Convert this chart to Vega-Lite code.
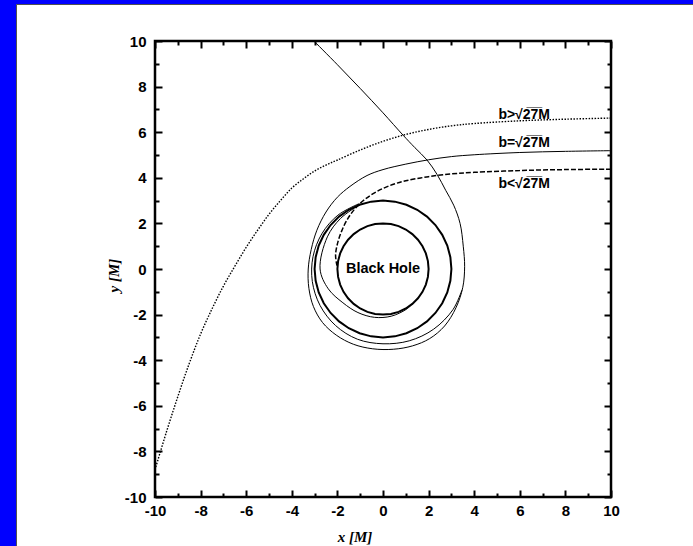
{
  "$schema": "https://vega.github.io/schema/vega-lite/v6.json",
  "autosize": {"type": "none"},
  "padding": {"left": 16, "top": 4, "right": 0, "bottom": 0},
  "width": 677,
  "height": 542,
  "background": "#0000ff",
  "view": {"fill": "white", "stroke": "#505050", "strokeWidth": 1},
  "datasets": {
    "above": [
      {"i": 0, "x": 10, "y": 6.62}, {"i": 1, "x": 8, "y": 6.57}, {"i": 2, "x": 6, "y": 6.5},
      {"i": 3, "x": 4, "y": 6.38}, {"i": 4, "x": 3, "y": 6.28}, {"i": 5, "x": 2, "y": 6.12},
      {"i": 6, "x": 1, "y": 5.9}, {"i": 7, "x": 0, "y": 5.6}, {"i": 8, "x": -1, "y": 5.22},
      {"i": 9, "x": -2, "y": 4.78}, {"i": 10, "x": -2.5, "y": 4.56}, {"i": 11, "x": -3, "y": 4.3},
      {"i": 12, "x": -3.5, "y": 3.95}, {"i": 13, "x": -4, "y": 3.55}, {"i": 14, "x": -4.5, "y": 3.0},
      {"i": 15, "x": -5, "y": 2.4}, {"i": 16, "x": -5.5, "y": 1.7}, {"i": 17, "x": -6, "y": 0.95},
      {"i": 18, "x": -6.5, "y": 0.12}, {"i": 19, "x": -7, "y": -0.75}, {"i": 20, "x": -7.5, "y": -1.75},
      {"i": 21, "x": -8, "y": -2.85}, {"i": 22, "x": -8.5, "y": -4.15}, {"i": 23, "x": -9, "y": -5.6},
      {"i": 24, "x": -9.5, "y": -7.15}, {"i": 25, "x": -10, "y": -8.8}
    ],
    "critical": [
      {"i": 0, "x": 10, "y": 5.19}, {"i": 1, "x": 8, "y": 5.16}, {"i": 2, "x": 6, "y": 5.11},
      {"i": 3, "x": 4, "y": 5.01}, {"i": 4, "x": 3, "y": 4.93}, {"i": 5, "x": 2, "y": 4.79},
      {"i": 6, "x": 1, "y": 4.6}, {"i": 7, "x": 0, "y": 4.36}, {"i": 8, "x": -0.7, "y": 4.1},
      {"i": 9, "x": -1.45, "y": 3.62}, {"i": 10, "x": -2.0, "y": 3.15}, {"i": 11, "x": -2.5, "y": 2.5},
      {"i": 12, "x": -2.9, "y": 1.7}, {"i": 13, "x": -3.15, "y": 0.85}, {"i": 14, "x": -3.28, "y": 0},
      {"i": 15, "x": -3.25, "y": -0.85}, {"i": 16, "x": -3.05, "y": -1.65}, {"i": 17, "x": -2.65, "y": -2.35},
      {"i": 18, "x": -2.05, "y": -2.9}, {"i": 19, "x": -1.3, "y": -3.3}, {"i": 20, "x": -0.45, "y": -3.5},
      {"i": 21, "x": 0.45, "y": -3.52}, {"i": 22, "x": 1.3, "y": -3.37}, {"i": 23, "x": 2.05, "y": -3.05},
      {"i": 24, "x": 2.7, "y": -2.5}, {"i": 25, "x": 3.2, "y": -1.7}, {"i": 26, "x": 3.5, "y": -0.8},
      {"i": 27, "x": 3.58, "y": 0.1}, {"i": 28, "x": 3.52, "y": 1.0}, {"i": 29, "x": 3.38, "y": 2.0},
      {"i": 30, "x": 3.1, "y": 2.8}, {"i": 31, "x": 2.75, "y": 3.45}, {"i": 32, "x": 2.37, "y": 4.15},
      {"i": 33, "x": 1.93, "y": 4.78}, {"i": 34, "x": 1.4, "y": 5.32}, {"i": 35, "x": 0.88, "y": 5.87},
      {"i": 36, "x": 0, "y": 6.85}, {"i": 37, "x": -1, "y": 7.92}, {"i": 38, "x": -2, "y": 8.96},
      {"i": 39, "x": -3.03, "y": 10}
    ],
    "below": [
      {"i": 0, "x": 10, "y": 4.38}, {"i": 1, "x": 8, "y": 4.36}, {"i": 2, "x": 6, "y": 4.32},
      {"i": 3, "x": 4, "y": 4.24}, {"i": 4, "x": 3, "y": 4.17}, {"i": 5, "x": 2, "y": 4.05},
      {"i": 6, "x": 1, "y": 3.87}, {"i": 7, "x": 0.3, "y": 3.66}, {"i": 8, "x": -0.3, "y": 3.38},
      {"i": 9, "x": -0.8, "y": 3.05}, {"i": 10, "x": -1.2, "y": 2.68}, {"i": 11, "x": -1.55, "y": 2.2},
      {"i": 12, "x": -1.82, "y": 1.65}, {"i": 13, "x": -2.0, "y": 1.1}, {"i": 14, "x": -2.08, "y": 0.6},
      {"i": 15, "x": -2.02, "y": 0.15}
    ],
    "outerWind": [
      {"i": 0, "x": -1.04, "y": 2.87}, {"i": 1, "x": -1.98, "y": 2.36}, {"i": 2, "x": -2.68, "y": 1.55},
      {"i": 3, "x": -3.07, "y": 0.54}, {"i": 4, "x": -3.1, "y": -0.55}, {"i": 5, "x": -2.76, "y": -1.6},
      {"i": 6, "x": -2.08, "y": -2.48}, {"i": 7, "x": -1.12, "y": -3.08}, {"i": 8, "x": 0, "y": -3.28},
      {"i": 9, "x": 1.15, "y": -3.15}, {"i": 10, "x": 2.22, "y": -2.64}, {"i": 11, "x": 3.07, "y": -1.78},
      {"i": 12, "x": 3.46, "y": -0.93}
    ],
    "innerWind": [
      {"i": 0, "x": -1.03, "y": 2.82}, {"i": 1, "x": -1.86, "y": 2.22}, {"i": 2, "x": -2.44, "y": 1.41},
      {"i": 3, "x": -2.76, "y": 0}, {"i": 4, "x": -2.4, "y": -0.87}, {"i": 5, "x": -1.76, "y": -1.48},
      {"i": 6, "x": -1.1, "y": -1.91}, {"i": 7, "x": -0.37, "y": -2.12}, {"i": 8, "x": 0.36, "y": -2.07},
      {"i": 9, "x": 1.02, "y": -1.77}, {"i": 10, "x": 1.29, "y": -1.53}
    ],
    "horizon": [
      {"i": 0, "x": 2, "y": 0}, {"i": 1, "x": 1.9696, "y": 0.3473}, {"i": 2, "x": 1.8794, "y": 0.684},
      {"i": 3, "x": 1.7321, "y": 1}, {"i": 4, "x": 1.5321, "y": 1.2856}, {"i": 5, "x": 1.2856, "y": 1.5321},
      {"i": 6, "x": 1, "y": 1.7321}, {"i": 7, "x": 0.684, "y": 1.8794}, {"i": 8, "x": 0.3473, "y": 1.9696},
      {"i": 9, "x": 0, "y": 2}, {"i": 10, "x": -0.3473, "y": 1.9696}, {"i": 11, "x": -0.684, "y": 1.8794},
      {"i": 12, "x": -1, "y": 1.7321}, {"i": 13, "x": -1.2856, "y": 1.5321}, {"i": 14, "x": -1.5321, "y": 1.2856},
      {"i": 15, "x": -1.7321, "y": 1}, {"i": 16, "x": -1.8794, "y": 0.684}, {"i": 17, "x": -1.9696, "y": 0.3473},
      {"i": 18, "x": -2, "y": 0}, {"i": 19, "x": -1.9696, "y": -0.3473}, {"i": 20, "x": -1.8794, "y": -0.684},
      {"i": 21, "x": -1.7321, "y": -1}, {"i": 22, "x": -1.5321, "y": -1.2856}, {"i": 23, "x": -1.2856, "y": -1.5321},
      {"i": 24, "x": -1, "y": -1.7321}, {"i": 25, "x": -0.684, "y": -1.8794}, {"i": 26, "x": -0.3473, "y": -1.9696},
      {"i": 27, "x": 0, "y": -2}, {"i": 28, "x": 0.3473, "y": -1.9696}, {"i": 29, "x": 0.684, "y": -1.8794},
      {"i": 30, "x": 1, "y": -1.7321}, {"i": 31, "x": 1.2856, "y": -1.5321}, {"i": 32, "x": 1.5321, "y": -1.2856},
      {"i": 33, "x": 1.7321, "y": -1}, {"i": 34, "x": 1.8794, "y": -0.684}, {"i": 35, "x": 1.9696, "y": -0.3473},
      {"i": 36, "x": 2, "y": 0}
    ],
    "photonSphere": [
      {"i": 0, "x": 3, "y": 0}, {"i": 1, "x": 2.9544, "y": 0.5209}, {"i": 2, "x": 2.8191, "y": 1.0261},
      {"i": 3, "x": 2.5981, "y": 1.5}, {"i": 4, "x": 2.2981, "y": 1.9284}, {"i": 5, "x": 1.9284, "y": 2.2981},
      {"i": 6, "x": 1.5, "y": 2.5981}, {"i": 7, "x": 1.0261, "y": 2.8191}, {"i": 8, "x": 0.5209, "y": 2.9544},
      {"i": 9, "x": 0, "y": 3}, {"i": 10, "x": -0.5209, "y": 2.9544}, {"i": 11, "x": -1.0261, "y": 2.8191},
      {"i": 12, "x": -1.5, "y": 2.5981}, {"i": 13, "x": -1.9284, "y": 2.2981}, {"i": 14, "x": -2.2981, "y": 1.9284},
      {"i": 15, "x": -2.5981, "y": 1.5}, {"i": 16, "x": -2.8191, "y": 1.0261}, {"i": 17, "x": -2.9544, "y": 0.5209},
      {"i": 18, "x": -3, "y": 0}, {"i": 19, "x": -2.9544, "y": -0.5209}, {"i": 20, "x": -2.8191, "y": -1.0261},
      {"i": 21, "x": -2.5981, "y": -1.5}, {"i": 22, "x": -2.2981, "y": -1.9284}, {"i": 23, "x": -1.9284, "y": -2.2981},
      {"i": 24, "x": -1.5, "y": -2.5981}, {"i": 25, "x": -1.0261, "y": -2.8191}, {"i": 26, "x": -0.5209, "y": -2.9544},
      {"i": 27, "x": 0, "y": -3}, {"i": 28, "x": 0.5209, "y": -2.9544}, {"i": 29, "x": 1.0261, "y": -2.8191},
      {"i": 30, "x": 1.5, "y": -2.5981}, {"i": 31, "x": 1.9284, "y": -2.2981}, {"i": 32, "x": 2.2981, "y": -1.9284},
      {"i": 33, "x": 2.5981, "y": -1.5}, {"i": 34, "x": 2.8191, "y": -1.0261}, {"i": 35, "x": 2.9544, "y": -0.5209},
      {"i": 36, "x": 3, "y": 0}
    ],
    "labels": [
      {"x": 5.06, "y": 6.58, "t": "b>√2̅7̅M"},
      {"x": 5.06, "y": 5.36, "t": "b=√2̅7̅M"},
      {"x": 5.06, "y": 3.54, "t": "b<√2̅7̅M"}
    ],
    "frame": [
      {"x": -10, "x2": 10, "y": -10, "y2": 10}
    ]
  },
  "encoding": {
    "x": {"field": "x", "type": "quantitative", "scale": {"domain": [-16.0965, 13.596], "nice": false, "zero": false}, "axis": null},
    "y": {"field": "y", "type": "quantitative", "scale": {"domain": [-12.149, 11.623], "nice": false, "zero": false}, "axis": null}
  },
  "layer": [
    {
      "data": {"name": "frame"},
      "mark": {"type": "rect", "filled": false, "color": "black", "strokeWidth": 2.5},
      "encoding": {
        "x": {
          "field": "x", "type": "quantitative",
          "scale": {"domain": [-16.0965, 13.596], "nice": false, "zero": false},
          "axis": {
            "orient": "bottom", "offset": -49,
            "values": [-10, -9, -8, -7, -6, -5, -4, -3, -2, -1, 0, 1, 2, 3, 4, 5, 6, 7, 8, 9, 10],
            "domain": false, "grid": false,
            "tickColor": "black", "tickWidth": 2,
            "tickSize": {"condition": {"test": "datum.value % 2 === 0", "value": -7}, "value": -4},
            "labelExpr": "datum.value % 2 === 0 ? '' + datum.value : ''",
            "labelFont": "Liberation Sans", "labelFontWeight": "bold", "labelFontSize": 15,
            "labelColor": "black", "labelPadding": 13, "labelFlush": false, "labelOverlap": false,
            "title": "x [M]", "titleFont": "Liberation Serif", "titleFontStyle": "italic",
            "titleFontWeight": "bold", "titleFontSize": 15, "titleColor": "black", "titlePadding": 8
          }
        },
        "x2": {"field": "x2"},
        "y": {
          "field": "y", "type": "quantitative",
          "scale": {"domain": [-12.149, 11.623], "nice": false, "zero": false},
          "axis": {
            "orient": "left", "offset": -139,
            "values": [-10, -9, -8, -7, -6, -5, -4, -3, -2, -1, 0, 1, 2, 3, 4, 5, 6, 7, 8, 9, 10],
            "domain": false, "grid": false,
            "tickColor": "black", "tickWidth": 2,
            "tickSize": {"condition": {"test": "datum.value % 2 === 0", "value": -7}, "value": -4},
            "labelExpr": "datum.value % 2 === 0 ? '' + datum.value : ''",
            "labelFont": "Liberation Sans", "labelFontWeight": "bold", "labelFontSize": 15,
            "labelColor": "black", "labelPadding": 16, "labelFlush": false, "labelOverlap": false,
            "title": "y [M]", "titleFont": "Liberation Serif", "titleFontStyle": "italic",
            "titleFontWeight": "bold", "titleFontSize": 15, "titleColor": "black", "titlePadding": 3
          }
        },
        "y2": {"field": "y2"}
      }
    },
    {
      "data": {"name": "frame"},
      "mark": {"type": "rect", "opacity": 0},
      "encoding": {
        "x": {
          "field": "x", "type": "quantitative",
          "scale": {"domain": [-16.0965, 13.596], "nice": false, "zero": false},
          "axis": {
            "orient": "top", "offset": -37,
            "values": [-10, -9, -8, -7, -6, -5, -4, -3, -2, -1, 0, 1, 2, 3, 4, 5, 6, 7, 8, 9, 10],
            "domain": false, "grid": false, "labels": false, "title": null,
            "tickColor": "black", "tickWidth": 2,
            "tickSize": {"condition": {"test": "datum.value % 2 === 0", "value": -7}, "value": -4}
          }
        },
        "x2": {"field": "x2"},
        "y": {
          "field": "y", "type": "quantitative",
          "scale": {"domain": [-12.149, 11.623], "nice": false, "zero": false},
          "axis": {
            "orient": "right", "offset": -82,
            "values": [-10, -9, -8, -7, -6, -5, -4, -3, -2, -1, 0, 1, 2, 3, 4, 5, 6, 7, 8, 9, 10],
            "domain": false, "grid": false, "labels": false, "title": null,
            "tickColor": "black", "tickWidth": 2,
            "tickSize": {"condition": {"test": "datum.value % 2 === 0", "value": -7}, "value": -4}
          }
        },
        "y2": {"field": "y2"}
      }
    },
    {
      "data": {"name": "horizon"},
      "mark": {"type": "line", "color": "black", "strokeWidth": 2},
      "encoding": {"order": {"field": "i", "type": "quantitative"}}
    },
    {
      "data": {"name": "photonSphere"},
      "mark": {"type": "line", "color": "black", "strokeWidth": 2},
      "encoding": {"order": {"field": "i", "type": "quantitative"}}
    },
    {
      "data": {"name": "above"},
      "mark": {"type": "line", "color": "black", "strokeWidth": 1.4, "strokeDash": [1.5, 1.5], "interpolate": "catmull-rom"},
      "encoding": {"order": {"field": "i", "type": "quantitative"}}
    },
    {
      "data": {"name": "critical"},
      "mark": {"type": "line", "color": "black", "strokeWidth": 1, "interpolate": "catmull-rom"},
      "encoding": {"order": {"field": "i", "type": "quantitative"}}
    },
    {
      "data": {"name": "outerWind"},
      "mark": {"type": "line", "color": "black", "strokeWidth": 1, "interpolate": "catmull-rom"},
      "encoding": {"order": {"field": "i", "type": "quantitative"}}
    },
    {
      "data": {"name": "innerWind"},
      "mark": {"type": "line", "color": "black", "strokeWidth": 1, "interpolate": "catmull-rom"},
      "encoding": {"order": {"field": "i", "type": "quantitative"}}
    },
    {
      "data": {"name": "below"},
      "mark": {"type": "line", "color": "black", "strokeWidth": 1.5, "strokeDash": [5, 2], "interpolate": "catmull-rom"},
      "encoding": {"order": {"field": "i", "type": "quantitative"}}
    },
    {
      "data": {"name": "labels"},
      "mark": {"type": "text", "align": "left", "baseline": "alphabetic", "font": "Liberation Sans", "fontWeight": "bold", "fontSize": 14, "color": "black"},
      "encoding": {"text": {"field": "t"}}
    },
    {
      "data": {"values": [{"x": 0, "y": 0, "t": "Black Hole"}]},
      "mark": {"type": "text", "align": "center", "baseline": "middle", "font": "Liberation Sans", "fontWeight": "bold", "fontSize": 14.5, "color": "black"},
      "encoding": {"text": {"field": "t"}}
    }
  ],
  "resolve": {"axis": {"x": "independent", "y": "independent"}}
}
